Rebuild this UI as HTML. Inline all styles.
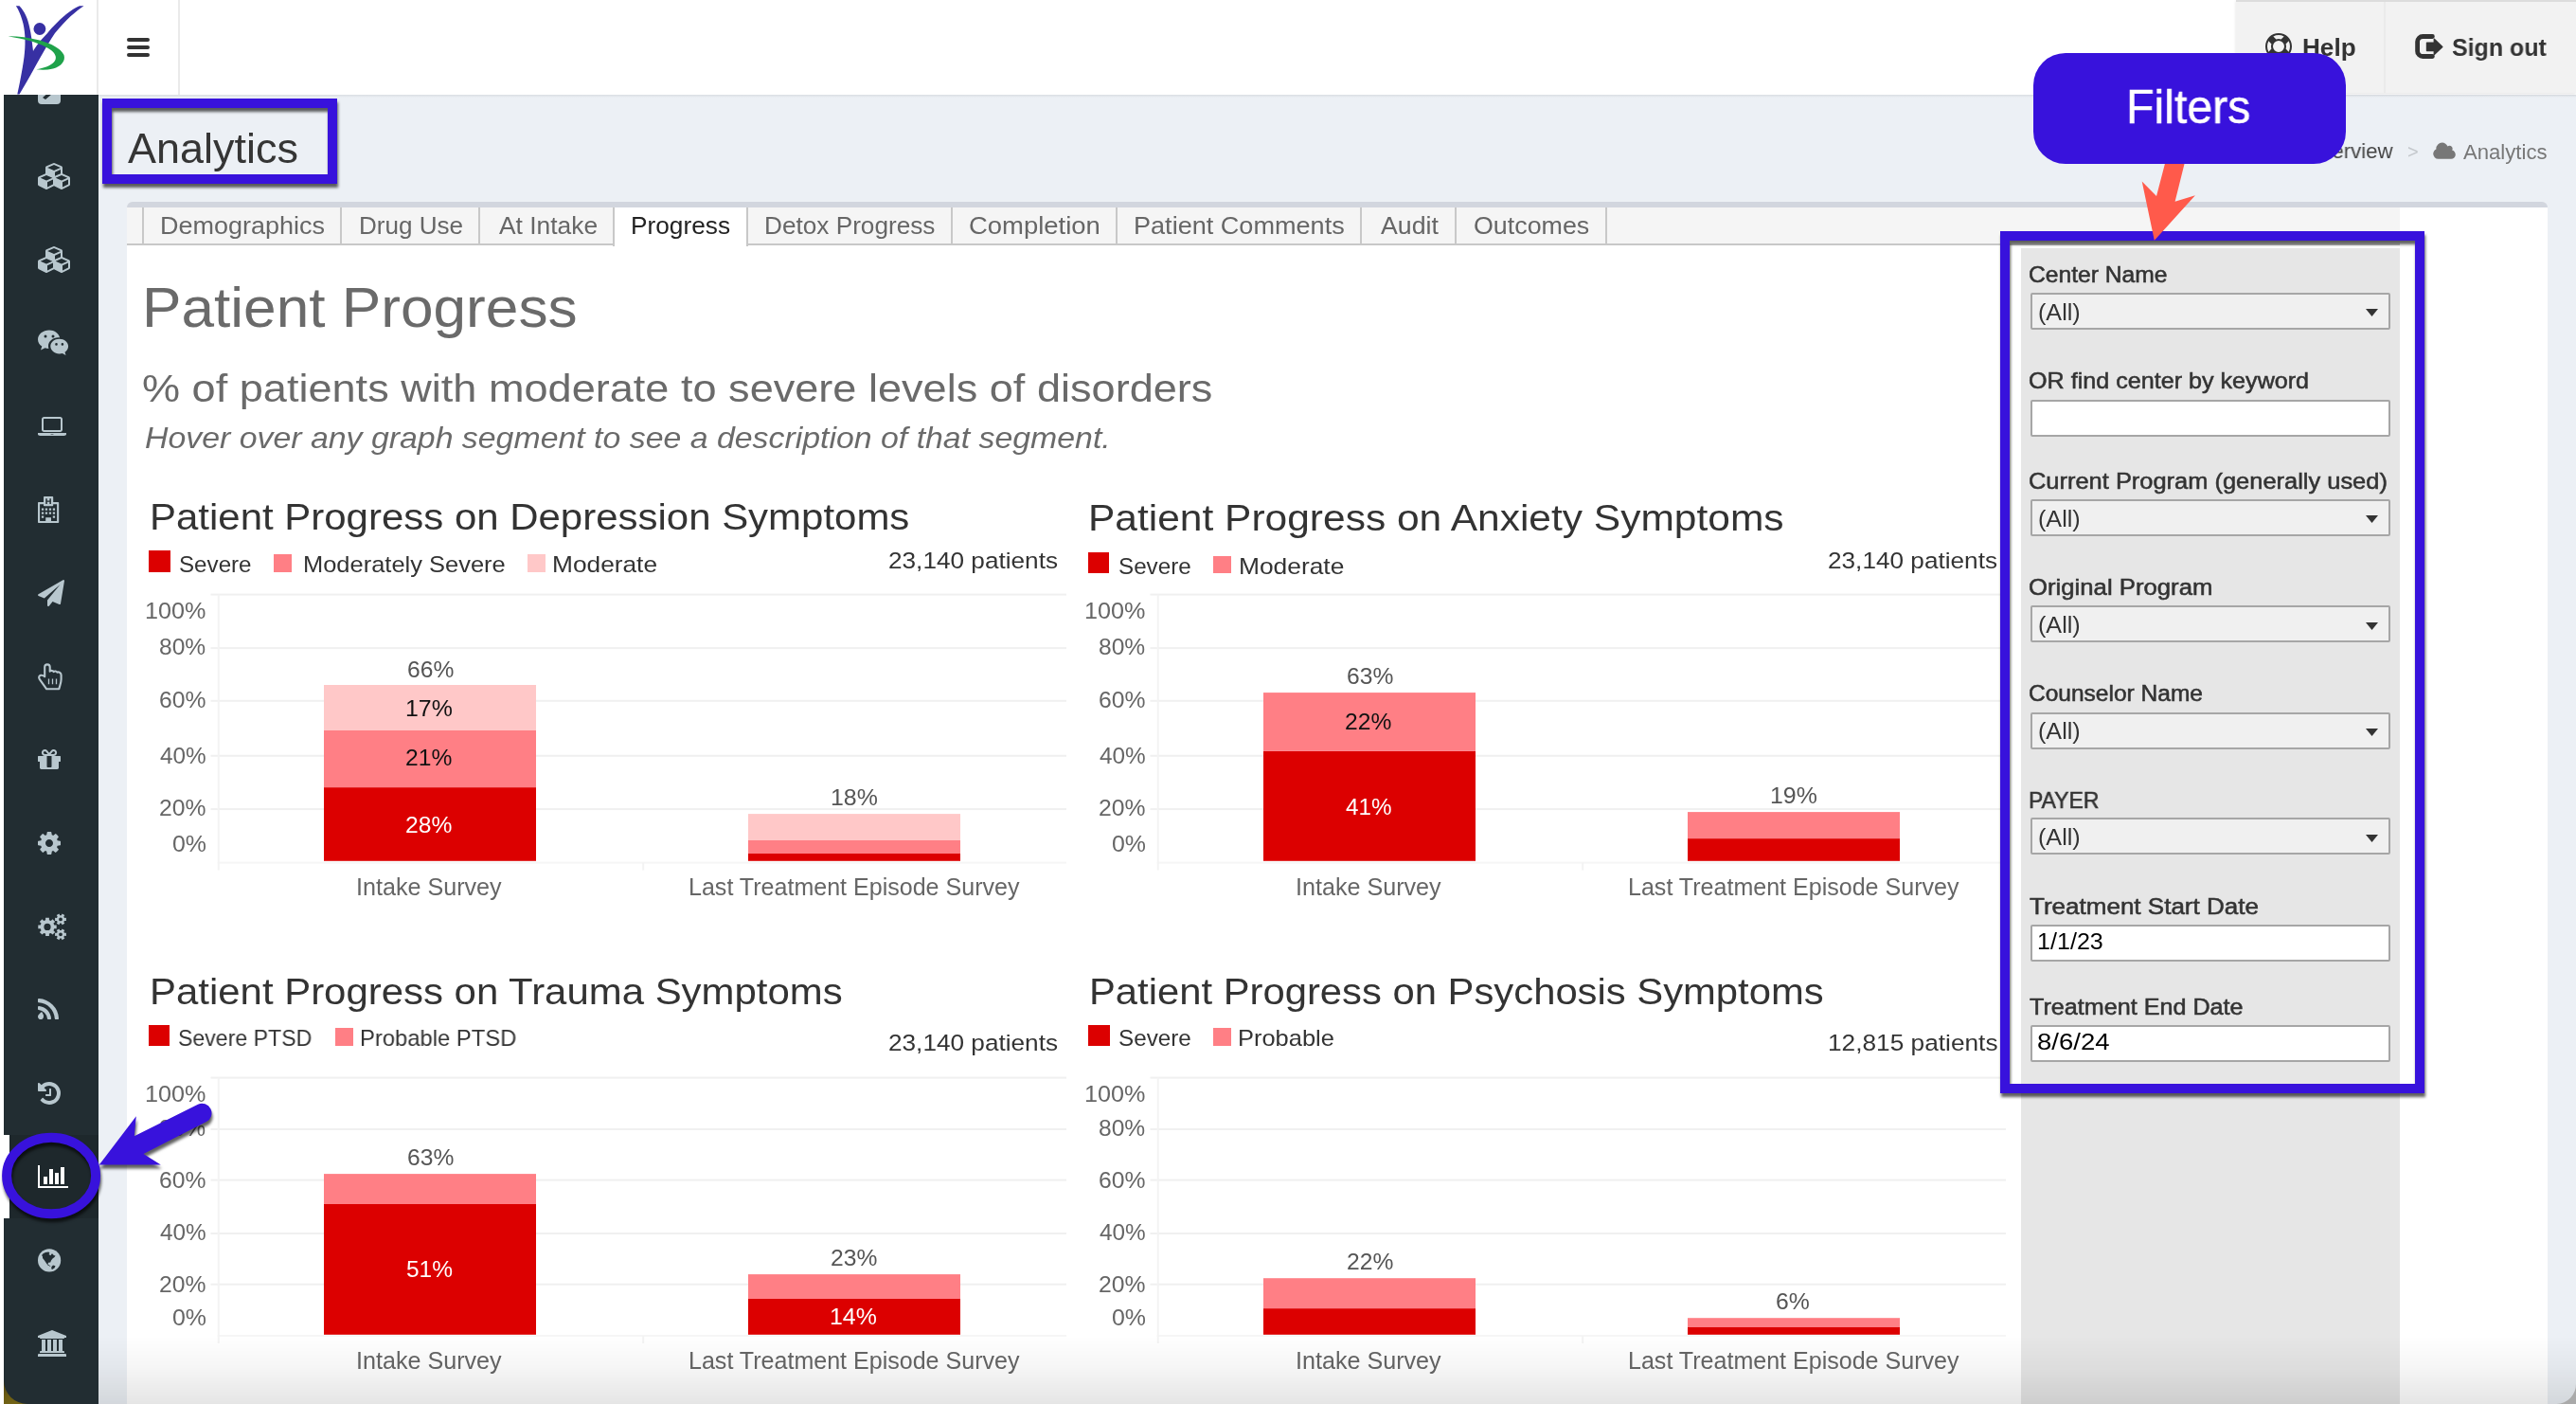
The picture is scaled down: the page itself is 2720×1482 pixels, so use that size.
<!DOCTYPE html>
<html lang="en"><head><meta charset="utf-8"><title>Analytics</title>
<style>
html,body{margin:0;padding:0}
body{width:2720px;height:1482px;overflow:hidden;position:relative;background:#ecf0f5;font-family:"Liberation Sans",sans-serif}
.t{position:absolute;white-space:nowrap;line-height:normal;font-family:"Liberation Sans",sans-serif;will-change:transform}
.a{position:absolute}
svg{position:absolute;overflow:visible}
</style></head><body>

<div class="a" style="left:0;top:0;width:4px;height:1482px;background:#fff"></div>
<div class="a" style="left:4px;top:1445px;width:36px;height:37px;background:linear-gradient(160deg,#3a2f14,#6b5c12 60%,#7a6a1a)"></div>
<main class="a" style="left:134px;top:213px;width:2556px;height:1300px;background:#fff;border-top:6px solid #d2d6de;border-radius:6px 6px 0 0;box-sizing:border-box"></main>
<nav class="a" style="left:134px;top:219px;width:2400px;height:38px;background:#f5f5f5;border-bottom:2px solid #c8c8c8"></nav>
<div class="a" style="left:150px;top:219px;width:2px;height:38px;background:#c8c8c8"></div>
<span class="t" style="left:169.1px;top:223.7px;font-size:25.5px;color:#666;font-weight:400;font-style:normal;letter-spacing:0.00px;transform:scaleX(1.0588);transform-origin:0 0;">Demographics</span>
<div class="a" style="left:359px;top:219px;width:2px;height:38px;background:#c8c8c8"></div>
<span class="t" style="left:378.9px;top:223.7px;font-size:25.5px;color:#666;font-weight:400;font-style:normal;letter-spacing:0.00px;transform:scaleX(1.0220);transform-origin:0 0;">Drug Use</span>
<div class="a" style="left:505px;top:219px;width:2px;height:38px;background:#c8c8c8"></div>
<span class="t" style="left:526.5px;top:223.7px;font-size:25.5px;color:#666;font-weight:400;font-style:normal;letter-spacing:0.00px;transform:scaleX(1.0342);transform-origin:0 0;">At Intake</span>
<div class="a" style="left:647px;top:219px;width:143px;height:41px;background:#fff;border-left:2px solid #c8c8c8;border-right:2px solid #c8c8c8;box-sizing:border-box"></div>
<span class="t" style="left:666.2px;top:223.7px;font-size:25.5px;color:#222;font-weight:400;font-style:normal;letter-spacing:0.00px;transform:scaleX(1.0293);transform-origin:0 0;">Progress</span>
<div class="a" style="left:788px;top:219px;width:2px;height:38px;background:#c8c8c8"></div>
<span class="t" style="left:806.8px;top:223.7px;font-size:25.5px;color:#666;font-weight:400;font-style:normal;letter-spacing:0.00px;transform:scaleX(1.0269);transform-origin:0 0;">Detox Progress</span>
<div class="a" style="left:1004px;top:219px;width:2px;height:38px;background:#c8c8c8"></div>
<span class="t" style="left:1023.4px;top:223.7px;font-size:25.5px;color:#666;font-weight:400;font-style:normal;letter-spacing:0.00px;transform:scaleX(1.0762);transform-origin:0 0;">Completion</span>
<div class="a" style="left:1178px;top:219px;width:2px;height:38px;background:#c8c8c8"></div>
<span class="t" style="left:1197.4px;top:223.7px;font-size:25.5px;color:#666;font-weight:400;font-style:normal;letter-spacing:0.00px;transform:scaleX(1.0617);transform-origin:0 0;">Patient Comments</span>
<div class="a" style="left:1436px;top:219px;width:2px;height:38px;background:#c8c8c8"></div>
<span class="t" style="left:1458.2px;top:223.7px;font-size:25.5px;color:#666;font-weight:400;font-style:normal;letter-spacing:0.00px;transform:scaleX(1.0466);transform-origin:0 0;">Audit</span>
<div class="a" style="left:1536px;top:219px;width:2px;height:38px;background:#c8c8c8"></div>
<span class="t" style="left:1556.4px;top:223.7px;font-size:25.5px;color:#666;font-weight:400;font-style:normal;letter-spacing:0.00px;transform:scaleX(1.0518);transform-origin:0 0;">Outcomes</span>
<div class="a" style="left:1695px;top:219px;width:2px;height:38px;background:#c8c8c8"></div>
<aside class="a" style="left:2134px;top:262px;width:400px;height:1230px;background:#e6e6e6"></aside>
<span class="t" style="left:149.6px;top:290.9px;font-size:58.5px;color:#6a6a6a;font-weight:400;font-style:normal;letter-spacing:0.00px;transform:scaleX(1.0626);transform-origin:0 0;">Patient Progress</span>
<span class="t" style="left:150.4px;top:386.7px;font-size:40.5px;color:#6a6a6a;font-weight:400;font-style:normal;letter-spacing:0.00px;transform:scaleX(1.1134);transform-origin:0 0;">% of patients with moderate to severe levels of disorders</span>
<span class="t" style="left:152.8px;top:445.2px;font-size:30.5px;color:#6a6a6a;font-weight:400;font-style:italic;letter-spacing:0.00px;transform:scaleX(1.1097);transform-origin:0 0;">Hover over any graph segment to see a description of that segment.</span>
<svg width="2720" height="1482" style="left:0;top:0" viewBox="0 0 2720 1482">
<rect x="222.5" y="626.6" width="903.5" height="2" fill="#f0f0f0"/>
<rect x="222.5" y="683.1" width="903.5" height="2" fill="#f0f0f0"/>
<rect x="222.5" y="738.8" width="903.5" height="2" fill="#f0f0f0"/>
<rect x="222.5" y="796.8" width="903.5" height="2" fill="#f0f0f0"/>
<rect x="222.5" y="853.1" width="903.5" height="2" fill="#f0f0f0"/>
<rect x="229.7" y="909.6" width="896.3" height="2" fill="#f6f6f6"/>
<rect x="229.7" y="627.6" width="2" height="291.0" fill="#f3f3f3"/>
<rect x="678.2" y="910.6" width="2" height="8" fill="#f3f3f3"/>
<rect x="342" y="831.1" width="224" height="77.7" fill="#dc0000"/>
<rect x="342" y="771.0" width="224" height="60.1" fill="#ff7f85"/>
<rect x="342" y="723.0" width="224" height="48.0" fill="#ffc8c8"/>
<rect x="790" y="901.0" width="224" height="7.8" fill="#dc0000"/>
<rect x="790" y="887.0" width="224" height="14.0" fill="#ff7f85"/>
<rect x="790" y="859.1" width="224" height="27.9" fill="#ffc8c8"/>
</svg>
<span class="t" style="left:157.5px;top:525.2px;font-size:38px;color:#333;font-weight:400;font-style:normal;letter-spacing:0.00px;transform:scaleX(1.1043);transform-origin:0 0;">Patient Progress on Depression Symptoms</span>
<div class="a" style="left:157.2px;top:581.2px;width:22.6px;height:22.6px;background:#dc0000"></div>
<span class="t" style="left:189.0px;top:581.5px;font-size:24px;color:#333;font-weight:400;font-style:normal;letter-spacing:0.00px;transform:scaleX(1.0068);transform-origin:0 0;">Severe</span>
<div class="a" style="left:289.1px;top:584.9px;width:18.9px;height:18.9px;background:#ff7f85"></div>
<span class="t" style="left:319.5px;top:581.5px;font-size:24px;color:#333;font-weight:400;font-style:normal;letter-spacing:0.00px;transform:scaleX(1.0608);transform-origin:0 0;">Moderately Severe</span>
<div class="a" style="left:556.5px;top:584.5px;width:19.3px;height:19.3px;background:#ffc8c8"></div>
<span class="t" style="left:583.3px;top:581.5px;font-size:24px;color:#333;font-weight:400;font-style:normal;letter-spacing:0.00px;transform:scaleX(1.0952);transform-origin:0 0;">Moderate</span>
<span class="t" style="left:938.3px;top:577.6px;font-size:24.5px;color:#333;font-weight:400;font-style:normal;letter-spacing:0.00px;transform:scaleX(1.0683);transform-origin:0 0;">23,140 patients</span>
<span class="t" style="left:153.2px;top:630.7px;font-size:24px;color:#666;font-weight:400;font-style:normal;letter-spacing:0.00px;transform:scaleX(1.0485);transform-origin:0 0;">100%</span>
<span class="t" style="left:168.2px;top:668.9px;font-size:24px;color:#666;font-weight:400;font-style:normal;letter-spacing:0.00px;transform:scaleX(1.0249);transform-origin:0 0;">80%</span>
<span class="t" style="left:167.9px;top:725.0px;font-size:24px;color:#666;font-weight:400;font-style:normal;letter-spacing:0.00px;transform:scaleX(1.0304);transform-origin:0 0;">60%</span>
<span class="t" style="left:168.7px;top:783.5px;font-size:24px;color:#666;font-weight:400;font-style:normal;letter-spacing:0.00px;transform:scaleX(1.0139);transform-origin:0 0;">40%</span>
<span class="t" style="left:167.9px;top:839.3px;font-size:24px;color:#666;font-weight:400;font-style:normal;letter-spacing:0.00px;transform:scaleX(1.0304);transform-origin:0 0;">20%</span>
<span class="t" style="left:182.2px;top:877.2px;font-size:24px;color:#666;font-weight:400;font-style:normal;letter-spacing:0.00px;transform:scaleX(1.0382);transform-origin:0 0;">0%</span>
<span class="t" style="left:429.7px;top:692.6px;font-size:24px;color:#555;font-weight:400;font-style:normal;letter-spacing:0.00px;transform:scaleX(1.0261);transform-origin:0 0;">66%</span>
<span class="t" style="left:427.8px;top:733.9px;font-size:24px;color:#111;font-weight:400;font-style:normal;letter-spacing:0.00px;transform:scaleX(1.0374);transform-origin:0 0;">17%</span>
<span class="t" style="left:428.3px;top:786.2px;font-size:24px;color:#111;font-weight:400;font-style:normal;letter-spacing:0.00px;transform:scaleX(1.0261);transform-origin:0 0;">21%</span>
<span class="t" style="left:428.3px;top:856.6px;font-size:24px;color:#fff;font-weight:400;font-style:normal;letter-spacing:0.00px;transform:scaleX(1.0261);transform-origin:0 0;">28%</span>
<span class="t" style="left:876.9px;top:828.1px;font-size:24px;color:#555;font-weight:400;font-style:normal;letter-spacing:0.00px;transform:scaleX(1.0374);transform-origin:0 0;">18%</span>
<span class="t" style="left:376.1px;top:921.5px;font-size:25px;color:#666;font-weight:400;font-style:normal;letter-spacing:0.00px;transform:scaleX(1.0053);transform-origin:0 0;">Intake Survey</span>
<span class="t" style="left:726.7px;top:921.5px;font-size:25px;color:#666;font-weight:400;font-style:normal;letter-spacing:0.00px;transform:scaleX(1.0019);transform-origin:0 0;">Last Treatment Episode Survey</span>
<svg width="2720" height="1482" style="left:0;top:0" viewBox="0 0 2720 1482">
<rect x="1214.5" y="626.6" width="903.5" height="2" fill="#f0f0f0"/>
<rect x="1214.5" y="683.1" width="903.5" height="2" fill="#f0f0f0"/>
<rect x="1214.5" y="738.8" width="903.5" height="2" fill="#f0f0f0"/>
<rect x="1214.5" y="796.8" width="903.5" height="2" fill="#f0f0f0"/>
<rect x="1214.5" y="853.1" width="903.5" height="2" fill="#f0f0f0"/>
<rect x="1221.7" y="909.6" width="896.3" height="2" fill="#f6f6f6"/>
<rect x="1221.7" y="627.6" width="2" height="291.0" fill="#f3f3f3"/>
<rect x="1670.2" y="910.6" width="2" height="8" fill="#f3f3f3"/>
<rect x="1334" y="792.9" width="224" height="115.9" fill="#dc0000"/>
<rect x="1334" y="731.1" width="224" height="61.8" fill="#ff7f85"/>
<rect x="1782" y="885.1" width="224" height="23.7" fill="#dc0000"/>
<rect x="1782" y="857.1" width="224" height="28.0" fill="#ff7f85"/>
</svg>
<span class="t" style="left:1149.4px;top:525.5px;font-size:38px;color:#333;font-weight:400;font-style:normal;letter-spacing:0.00px;transform:scaleX(1.1183);transform-origin:0 0;">Patient Progress on Anxiety Symptoms</span>
<div class="a" style="left:1149.4px;top:583.4px;width:22.1px;height:22.1px;background:#dc0000"></div>
<span class="t" style="left:1180.8px;top:583.8px;font-size:24px;color:#333;font-weight:400;font-style:normal;letter-spacing:0.00px;transform:scaleX(1.0081);transform-origin:0 0;">Severe</span>
<div class="a" style="left:1281.4px;top:587.3px;width:18.2px;height:18.2px;background:#ff7f85"></div>
<span class="t" style="left:1307.7px;top:583.8px;font-size:24px;color:#333;font-weight:400;font-style:normal;letter-spacing:0.00px;transform:scaleX(1.0982);transform-origin:0 0;">Moderate</span>
<span class="t" style="left:1930.3px;top:577.5px;font-size:24.5px;color:#333;font-weight:400;font-style:normal;letter-spacing:0.00px;transform:scaleX(1.0683);transform-origin:0 0;">23,140 patients</span>
<span class="t" style="left:1145.2px;top:630.7px;font-size:24px;color:#666;font-weight:400;font-style:normal;letter-spacing:0.00px;transform:scaleX(1.0485);transform-origin:0 0;">100%</span>
<span class="t" style="left:1160.2px;top:668.9px;font-size:24px;color:#666;font-weight:400;font-style:normal;letter-spacing:0.00px;transform:scaleX(1.0249);transform-origin:0 0;">80%</span>
<span class="t" style="left:1159.9px;top:725.0px;font-size:24px;color:#666;font-weight:400;font-style:normal;letter-spacing:0.00px;transform:scaleX(1.0304);transform-origin:0 0;">60%</span>
<span class="t" style="left:1160.7px;top:783.5px;font-size:24px;color:#666;font-weight:400;font-style:normal;letter-spacing:0.00px;transform:scaleX(1.0139);transform-origin:0 0;">40%</span>
<span class="t" style="left:1159.9px;top:839.3px;font-size:24px;color:#666;font-weight:400;font-style:normal;letter-spacing:0.00px;transform:scaleX(1.0304);transform-origin:0 0;">20%</span>
<span class="t" style="left:1174.2px;top:877.2px;font-size:24px;color:#666;font-weight:400;font-style:normal;letter-spacing:0.00px;transform:scaleX(1.0382);transform-origin:0 0;">0%</span>
<span class="t" style="left:1421.7px;top:700.4px;font-size:24px;color:#555;font-weight:400;font-style:normal;letter-spacing:0.00px;transform:scaleX(1.0261);transform-origin:0 0;">63%</span>
<span class="t" style="left:1420.3px;top:747.9px;font-size:24px;color:#111;font-weight:400;font-style:normal;letter-spacing:0.00px;transform:scaleX(1.0261);transform-origin:0 0;">22%</span>
<span class="t" style="left:1421.1px;top:837.9px;font-size:24px;color:#fff;font-weight:400;font-style:normal;letter-spacing:0.00px;transform:scaleX(1.0096);transform-origin:0 0;">41%</span>
<span class="t" style="left:1868.9px;top:826.1px;font-size:24px;color:#555;font-weight:400;font-style:normal;letter-spacing:0.00px;transform:scaleX(1.0374);transform-origin:0 0;">19%</span>
<span class="t" style="left:1368.1px;top:921.5px;font-size:25px;color:#666;font-weight:400;font-style:normal;letter-spacing:0.00px;transform:scaleX(1.0053);transform-origin:0 0;">Intake Survey</span>
<span class="t" style="left:1718.7px;top:921.5px;font-size:25px;color:#666;font-weight:400;font-style:normal;letter-spacing:0.00px;transform:scaleX(1.0019);transform-origin:0 0;">Last Treatment Episode Survey</span>
<svg width="2720" height="1482" style="left:0;top:0" viewBox="0 0 2720 1482">
<rect x="222.5" y="1136.6" width="903.5" height="2" fill="#f0f0f0"/>
<rect x="222.5" y="1190.9" width="903.5" height="2" fill="#f0f0f0"/>
<rect x="222.5" y="1244.6" width="903.5" height="2" fill="#f0f0f0"/>
<rect x="222.5" y="1301.0" width="903.5" height="2" fill="#f0f0f0"/>
<rect x="222.5" y="1354.7" width="903.5" height="2" fill="#f0f0f0"/>
<rect x="229.7" y="1409.0" width="896.3" height="2" fill="#f6f6f6"/>
<rect x="229.7" y="1137.6" width="2" height="280.4" fill="#f3f3f3"/>
<rect x="678.2" y="1410.0" width="2" height="8" fill="#f3f3f3"/>
<rect x="342" y="1271.0" width="224" height="137.8" fill="#dc0000"/>
<rect x="342" y="1239.1" width="224" height="31.9" fill="#ff7f85"/>
<rect x="790" y="1371.0" width="224" height="37.8" fill="#dc0000"/>
<rect x="790" y="1345.1" width="224" height="25.9" fill="#ff7f85"/>
</svg>
<span class="t" style="left:157.5px;top:1026.4px;font-size:38px;color:#333;font-weight:400;font-style:normal;letter-spacing:0.00px;transform:scaleX(1.1033);transform-origin:0 0;">Patient Progress on Trauma Symptoms</span>
<div class="a" style="left:157.3px;top:1082.0px;width:22.2px;height:22.2px;background:#dc0000"></div>
<span class="t" style="left:188.4px;top:1082.1px;font-size:24px;color:#333;font-weight:400;font-style:normal;letter-spacing:0.00px;transform:scaleX(0.9623);transform-origin:0 0;">Severe PTSD</span>
<div class="a" style="left:353.5px;top:1084.8px;width:19.4px;height:19.4px;background:#ff7f85"></div>
<span class="t" style="left:380.4px;top:1082.1px;font-size:24px;color:#333;font-weight:400;font-style:normal;letter-spacing:0.00px;transform:scaleX(0.9911);transform-origin:0 0;">Probable PTSD</span>
<span class="t" style="left:938.3px;top:1087.2px;font-size:24.5px;color:#333;font-weight:400;font-style:normal;letter-spacing:0.00px;transform:scaleX(1.0683);transform-origin:0 0;">23,140 patients</span>
<span class="t" style="left:153.2px;top:1141.1px;font-size:24px;color:#666;font-weight:400;font-style:normal;letter-spacing:0.00px;transform:scaleX(1.0485);transform-origin:0 0;">100%</span>
<span class="t" style="left:168.2px;top:1177.1px;font-size:24px;color:#666;font-weight:400;font-style:normal;letter-spacing:0.00px;transform:scaleX(1.0249);transform-origin:0 0;">80%</span>
<span class="t" style="left:167.9px;top:1231.5px;font-size:24px;color:#666;font-weight:400;font-style:normal;letter-spacing:0.00px;transform:scaleX(1.0304);transform-origin:0 0;">60%</span>
<span class="t" style="left:168.7px;top:1287.3px;font-size:24px;color:#666;font-weight:400;font-style:normal;letter-spacing:0.00px;transform:scaleX(1.0139);transform-origin:0 0;">40%</span>
<span class="t" style="left:167.9px;top:1341.8px;font-size:24px;color:#666;font-weight:400;font-style:normal;letter-spacing:0.00px;transform:scaleX(1.0304);transform-origin:0 0;">20%</span>
<span class="t" style="left:182.2px;top:1377.3px;font-size:24px;color:#666;font-weight:400;font-style:normal;letter-spacing:0.00px;transform:scaleX(1.0382);transform-origin:0 0;">0%</span>
<span class="t" style="left:429.7px;top:1208.1px;font-size:24px;color:#555;font-weight:400;font-style:normal;letter-spacing:0.00px;transform:scaleX(1.0261);transform-origin:0 0;">63%</span>
<span class="t" style="left:428.6px;top:1326.4px;font-size:24px;color:#fff;font-weight:400;font-style:normal;letter-spacing:0.00px;transform:scaleX(1.0205);transform-origin:0 0;">51%</span>
<span class="t" style="left:877.4px;top:1314.4px;font-size:24px;color:#555;font-weight:400;font-style:normal;letter-spacing:0.00px;transform:scaleX(1.0261);transform-origin:0 0;">23%</span>
<span class="t" style="left:875.6px;top:1376.4px;font-size:24px;color:#fff;font-weight:400;font-style:normal;letter-spacing:0.00px;transform:scaleX(1.0374);transform-origin:0 0;">14%</span>
<span class="t" style="left:376.1px;top:1422.2px;font-size:25px;color:#666;font-weight:400;font-style:normal;letter-spacing:0.00px;transform:scaleX(1.0053);transform-origin:0 0;">Intake Survey</span>
<span class="t" style="left:726.7px;top:1422.2px;font-size:25px;color:#666;font-weight:400;font-style:normal;letter-spacing:0.00px;transform:scaleX(1.0019);transform-origin:0 0;">Last Treatment Episode Survey</span>
<svg width="2720" height="1482" style="left:0;top:0" viewBox="0 0 2720 1482">
<rect x="1214.5" y="1136.6" width="903.5" height="2" fill="#f0f0f0"/>
<rect x="1214.5" y="1190.9" width="903.5" height="2" fill="#f0f0f0"/>
<rect x="1214.5" y="1244.6" width="903.5" height="2" fill="#f0f0f0"/>
<rect x="1214.5" y="1301.0" width="903.5" height="2" fill="#f0f0f0"/>
<rect x="1214.5" y="1354.7" width="903.5" height="2" fill="#f0f0f0"/>
<rect x="1221.7" y="1409.0" width="896.3" height="2" fill="#f6f6f6"/>
<rect x="1221.7" y="1137.6" width="2" height="280.4" fill="#f3f3f3"/>
<rect x="1670.2" y="1410.0" width="2" height="8" fill="#f3f3f3"/>
<rect x="1334" y="1381.1" width="224" height="27.7" fill="#dc0000"/>
<rect x="1334" y="1349.2" width="224" height="31.9" fill="#ff7f85"/>
<rect x="1782" y="1401.0" width="224" height="7.8" fill="#dc0000"/>
<rect x="1782" y="1391.2" width="224" height="9.8" fill="#ff7f85"/>
</svg>
<span class="t" style="left:1149.5px;top:1026.4px;font-size:38px;color:#333;font-weight:400;font-style:normal;letter-spacing:0.00px;transform:scaleX(1.0996);transform-origin:0 0;">Patient Progress on Psychosis Symptoms</span>
<div class="a" style="left:1149.0px;top:1081.6px;width:22.6px;height:22.6px;background:#dc0000"></div>
<span class="t" style="left:1180.5px;top:1082.1px;font-size:24px;color:#333;font-weight:400;font-style:normal;letter-spacing:0.00px;transform:scaleX(1.0095);transform-origin:0 0;">Severe</span>
<div class="a" style="left:1281.0px;top:1085.2px;width:19.0px;height:19.0px;background:#ff7f85"></div>
<span class="t" style="left:1307.3px;top:1082.1px;font-size:24px;color:#333;font-weight:400;font-style:normal;letter-spacing:0.00px;transform:scaleX(1.0602);transform-origin:0 0;">Probable</span>
<span class="t" style="left:1929.7px;top:1087.2px;font-size:24.5px;color:#333;font-weight:400;font-style:normal;letter-spacing:0.00px;transform:scaleX(1.0715);transform-origin:0 0;">12,815 patients</span>
<span class="t" style="left:1145.2px;top:1141.1px;font-size:24px;color:#666;font-weight:400;font-style:normal;letter-spacing:0.00px;transform:scaleX(1.0485);transform-origin:0 0;">100%</span>
<span class="t" style="left:1160.2px;top:1177.1px;font-size:24px;color:#666;font-weight:400;font-style:normal;letter-spacing:0.00px;transform:scaleX(1.0249);transform-origin:0 0;">80%</span>
<span class="t" style="left:1159.9px;top:1231.5px;font-size:24px;color:#666;font-weight:400;font-style:normal;letter-spacing:0.00px;transform:scaleX(1.0304);transform-origin:0 0;">60%</span>
<span class="t" style="left:1160.7px;top:1287.3px;font-size:24px;color:#666;font-weight:400;font-style:normal;letter-spacing:0.00px;transform:scaleX(1.0139);transform-origin:0 0;">40%</span>
<span class="t" style="left:1159.9px;top:1341.8px;font-size:24px;color:#666;font-weight:400;font-style:normal;letter-spacing:0.00px;transform:scaleX(1.0304);transform-origin:0 0;">20%</span>
<span class="t" style="left:1174.2px;top:1377.3px;font-size:24px;color:#666;font-weight:400;font-style:normal;letter-spacing:0.00px;transform:scaleX(1.0382);transform-origin:0 0;">0%</span>
<span class="t" style="left:1421.7px;top:1318.0px;font-size:24px;color:#555;font-weight:400;font-style:normal;letter-spacing:0.00px;transform:scaleX(1.0261);transform-origin:0 0;">22%</span>
<span class="t" style="left:1875.3px;top:1359.9px;font-size:24px;color:#555;font-weight:400;font-style:normal;letter-spacing:0.00px;transform:scaleX(1.0308);transform-origin:0 0;">6%</span>
<span class="t" style="left:1368.1px;top:1422.2px;font-size:25px;color:#666;font-weight:400;font-style:normal;letter-spacing:0.00px;transform:scaleX(1.0053);transform-origin:0 0;">Intake Survey</span>
<span class="t" style="left:1718.7px;top:1422.2px;font-size:25px;color:#666;font-weight:400;font-style:normal;letter-spacing:0.00px;transform:scaleX(1.0019);transform-origin:0 0;">Last Treatment Episode Survey</span>
<span class="t" style="left:2142.2px;top:276.1px;font-size:24.5px;color:#333;font-weight:400;font-style:normal;letter-spacing:0.00px;-webkit-text-stroke:0.55px #333;transform:scaleX(1.0059);transform-origin:0 0;">Center Name</span>
<div class="a" style="left:2144px;top:309.2px;width:380px;height:39px;box-sizing:border-box;background:#f0f0f0;border:2px solid #a6a6a6;border-radius:2px"></div><span class="t" style="left:2151.9px;top:316.5px;font-size:23.5px;color:#333;font-weight:400;font-style:normal;letter-spacing:0.00px;transform:scaleX(1.0692);transform-origin:0 0;">(All)</span><svg width="13" height="8" style="left:2497.8px;top:326.4px" viewBox="0 0 13 8"><path d="M0 0H13L6.5 8Z" fill="#333"/></svg>
<span class="t" style="left:2142.2px;top:387.9px;font-size:24.5px;color:#333;font-weight:400;font-style:normal;letter-spacing:0.00px;-webkit-text-stroke:0.55px #333;transform:scaleX(1.0257);transform-origin:0 0;">OR find center by keyword</span>
<div class="a" style="left:2144px;top:421.5px;width:380px;height:39px;box-sizing:border-box;background:#fff;border:2px solid #a6a6a6;border-radius:2px"></div>
<span class="t" style="left:2142.2px;top:494.1px;font-size:24.5px;color:#333;font-weight:400;font-style:normal;letter-spacing:0.00px;-webkit-text-stroke:0.55px #333;transform:scaleX(1.0382);transform-origin:0 0;">Current Program (generally used)</span>
<div class="a" style="left:2144px;top:527.2px;width:380px;height:39px;box-sizing:border-box;background:#f0f0f0;border:2px solid #a6a6a6;border-radius:2px"></div><span class="t" style="left:2151.9px;top:534.5px;font-size:23.5px;color:#333;font-weight:400;font-style:normal;letter-spacing:0.00px;transform:scaleX(1.0692);transform-origin:0 0;">(All)</span><svg width="13" height="8" style="left:2497.8px;top:544.4px" viewBox="0 0 13 8"><path d="M0 0H13L6.5 8Z" fill="#333"/></svg>
<span class="t" style="left:2142.2px;top:605.8px;font-size:24.5px;color:#333;font-weight:400;font-style:normal;letter-spacing:0.00px;-webkit-text-stroke:0.55px #333;transform:scaleX(1.0497);transform-origin:0 0;">Original Program</span>
<div class="a" style="left:2144px;top:639.4px;width:380px;height:39px;box-sizing:border-box;background:#f0f0f0;border:2px solid #a6a6a6;border-radius:2px"></div><span class="t" style="left:2151.9px;top:646.7px;font-size:23.5px;color:#333;font-weight:400;font-style:normal;letter-spacing:0.00px;transform:scaleX(1.0692);transform-origin:0 0;">(All)</span><svg width="13" height="8" style="left:2497.8px;top:656.6px" viewBox="0 0 13 8"><path d="M0 0H13L6.5 8Z" fill="#333"/></svg>
<span class="t" style="left:2142.2px;top:718.1px;font-size:24.5px;color:#333;font-weight:400;font-style:normal;letter-spacing:0.00px;-webkit-text-stroke:0.55px #333;transform:scaleX(1.0006);transform-origin:0 0;">Counselor Name</span>
<div class="a" style="left:2144px;top:751.6px;width:380px;height:39px;box-sizing:border-box;background:#f0f0f0;border:2px solid #a6a6a6;border-radius:2px"></div><span class="t" style="left:2151.9px;top:758.9px;font-size:23.5px;color:#333;font-weight:400;font-style:normal;letter-spacing:0.00px;transform:scaleX(1.0692);transform-origin:0 0;">(All)</span><svg width="13" height="8" style="left:2497.8px;top:768.8px" viewBox="0 0 13 8"><path d="M0 0H13L6.5 8Z" fill="#333"/></svg>
<span class="t" style="left:2141.6px;top:830.5px;font-size:24.5px;color:#333;font-weight:400;font-style:normal;letter-spacing:0.00px;-webkit-text-stroke:0.55px #333;transform:scaleX(0.9364);transform-origin:0 0;">PAYER</span>
<div class="a" style="left:2144px;top:863.4px;width:380px;height:39px;box-sizing:border-box;background:#f0f0f0;border:2px solid #a6a6a6;border-radius:2px"></div><span class="t" style="left:2151.9px;top:870.7px;font-size:23.5px;color:#333;font-weight:400;font-style:normal;letter-spacing:0.00px;transform:scaleX(1.0692);transform-origin:0 0;">(All)</span><svg width="13" height="8" style="left:2497.8px;top:880.6px" viewBox="0 0 13 8"><path d="M0 0H13L6.5 8Z" fill="#333"/></svg>
<span class="t" style="left:2143.0px;top:942.6px;font-size:24.5px;color:#333;font-weight:400;font-style:normal;letter-spacing:0.00px;-webkit-text-stroke:0.55px #333;transform:scaleX(1.0617);transform-origin:0 0;">Treatment Start Date</span>
<div class="a" style="left:2144px;top:975.6px;width:380px;height:39px;box-sizing:border-box;background:#fff;border:2px solid #a6a6a6;border-radius:2px"></div><span class="t" style="left:2150.6px;top:980.5px;font-size:23.5px;color:#000;font-weight:400;font-style:normal;letter-spacing:0.00px;transform:scaleX(1.0688);transform-origin:0 0;">1/1/23</span>
<span class="t" style="left:2143.0px;top:1048.7px;font-size:24.5px;color:#333;font-weight:400;font-style:normal;letter-spacing:0.00px;-webkit-text-stroke:0.55px #333;transform:scaleX(1.0266);transform-origin:0 0;">Treatment End Date</span>
<div class="a" style="left:2144px;top:1081.7px;width:380px;height:39px;box-sizing:border-box;background:#fff;border:2px solid #a6a6a6;border-radius:2px"></div><span class="t" style="left:2151.3px;top:1086.6px;font-size:23.5px;color:#000;font-weight:400;font-style:normal;letter-spacing:0.00px;transform:scaleX(1.1733);transform-origin:0 0;">8/6/24</span>
<span class="t" style="left:134.8px;top:132.1px;font-size:44.7px;color:#353535;font-weight:400;font-style:normal;letter-spacing:0.00px;transform:scaleX(1.0062);transform-origin:0 0;">Analytics</span>
<span class="t" style="left:2434.4px;top:147.3px;font-size:22.5px;color:#444;font-weight:400;font-style:normal;letter-spacing:0.00px;transform:scaleX(0.9871);transform-origin:0 0;">Overview</span>
<span class="t" style="left:2542.0px;top:149.1px;font-size:20px;color:#c4c8cc;font-weight:400;font-style:normal;letter-spacing:0.00px;">&gt;</span>
<span class="t" style="left:2601.0px;top:147.7px;font-size:22px;color:#777;font-weight:400;font-style:normal;letter-spacing:0.00px;transform:scaleX(1.0052);transform-origin:0 0;">Analytics</span>
<svg width="28" height="22" style="left:2566.5px;top:149px" viewBox="0 0 2048 1792"><path fill="#777" d="M1984 1152q0 159-112.5 271.5t-271.5 112.5h-1088q-185 0-316.5-131.5t-131.5-316.5q0-132 71-241.5t187-163.5q-2-28-2-43 0-212 150-362t362-150q158 0 286.5 88t187.5 230q70-62 166-62 106 0 181 75t75 181q0 75-41 138 129 30 213 134.5t84 239.5z"/></svg>
<aside class="a" style="left:4px;top:100px;width:100px;height:1382px;background:#222d32;border-radius:0 0 0 25px"></aside>
<div class="a" style="left:4px;top:1198px;width:100px;height:88px;background:#1e282c;border-left:6px solid #fff;box-sizing:border-box"></div>
<svg width="26" height="28" style="left:40px;top:83.6px" viewBox="0 0 26 28"><path fill="#b8c7ce" fill-rule="evenodd" d="M0 4 H24 V22 a4 4 0 0 1-4 4 H4 a4 4 0 0 1-4-4Z M5 19 L12 13 L14.5 15.5 L8 21Z"/></svg>
<svg width="36.0" height="28" style="left:40px;top:171.6px" viewBox="0 0 2304 1792"><path fill="#b8c7ce" d="M640 1632l384-192v-314l-384 164v342zm-64-454l404-173-404-173-404 173zm1088 454l384-192v-314l-384 164v342zm-64-454l404-173-404-173-404 173zm-448-293l384-165v-266l-384 164v267zm-64-379l441-189-441-189-441 189zm1088 518v416q0 36-19 67t-52 47l-448 224q-25 14-57 14t-57-14l-448-224q-4-2-7-4-2 2-7 4l-448 224q-25 14-57 14t-57-14l-448-224q-33-16-52-47t-19-67v-416q0-38 21.5-70t56.5-48l434-186v-400q0-38 21.5-70t56.5-48l448-192q23-10 50-10t50 10l448 192q35 16 56.5 48t21.5 70v400l434 186q36 16 57 48t21 70z"/></svg>
<svg width="36.0" height="28" style="left:40px;top:259.6px" viewBox="0 0 2304 1792"><path fill="#b8c7ce" d="M640 1632l384-192v-314l-384 164v342zm-64-454l404-173-404-173-404 173zm1088 454l384-192v-314l-384 164v342zm-64-454l404-173-404-173-404 173zm-448-293l384-165v-266l-384 164v267zm-64-379l441-189-441-189-441 189zm1088 518v416q0 36-19 67t-52 47l-448 224q-25 14-57 14t-57-14l-448-224q-4-2-7-4-2 2-7 4l-448 224q-25 14-57 14t-57-14l-448-224q-33-16-52-47t-19-67v-416q0-38 21.5-70t56.5-48l434-186v-400q0-38 21.5-70t56.5-48l448-192q23-10 50-10t50 10l448 192q35 16 56.5 48t21.5 70v400l434 186q36 16 57 48t21 70z"/></svg>
<svg width="34" height="28" style="left:40px;top:347.6px" viewBox="0 0 34 28"><path fill="#b8c7ce" d="M12 0.5C5.4 0.5 0 4.8 0 10.2c0 3 1.7 5.6 4.3 7.4L3 21.5l4.6-2.3c1.3.4 2.4.6 3.8.7-.3-.9-.4-1.7-.4-2.6 0-5 4.7-9 10.6-9 .5 0 1 0 1.5.1C22.1 3.9 17.5.5 12 .5zM8 5.4a1.5 1.5 0 110 3 1.5 1.5 0 010-3zm8 0a1.5 1.5 0 110 3 1.5 1.5 0 010-3z"/><path fill="#b8c7ce" d="M22.7 9.8c-5.2 0-9.4 3.5-9.4 7.8s4.2 7.8 9.4 7.8c1.1 0 2.2-.2 3.2-.5l3.6 2-1-3.2c2.2-1.4 3.6-3.6 3.6-6.1 0-4.3-4.2-7.8-9.4-7.8zm-3.2 4.3a1.3 1.3 0 110 2.6 1.3 1.3 0 010-2.6zm6.4 0a1.3 1.3 0 110 2.6 1.3 1.3 0 010-2.6z"/></svg>
<svg width="30.0" height="28" style="left:40px;top:435.6px" viewBox="0 0 1920 1792"><path fill="#b8c7ce" d="M416 1280q-66 0-113-47t-47-113v-704q0-66 47-113t113-47h1088q66 0 113 47t47 113v704q0 66-47 113t-113 47h-1088zm-32-864v704q0 13 9.5 22.5t22.5 9.5h1088q13 0 22.5-9.5t9.5-22.5v-704q0-13-9.5-22.5t-22.5-9.5h-1088q-13 0-22.5 9.5t-9.5 22.5zm1376 928h160v96q0 40-47 68t-113 28h-1600q-66 0-113-28t-47-68v-96h1760zm-720 96q16 0 16-16t-16-16h-160q-16 0-16 16t16 16h160z"/></svg>
<svg width="22.2" height="28" style="left:40px;top:524.0px" viewBox="0 0 22.2 28"><path fill="#b8c7ce" fill-rule="evenodd" d="M6.8 0H15.4a.8 .8 0 0 1 .8 .8V6H21.4a.8 .8 0 0 1 .8 .8V27.2a.8 .8 0 0 1-.8 .8H.8a.8 .8 0 0 1-.8-.8V6.8a.8 .8 0 0 1 .8-.8H6V.8a.8 .8 0 0 1 .8-.8Z M2.1 8.2H6V9.5a.8 .8 0 0 0 .8 .8H15.4a.8 .8 0 0 0 .8-.8V8.2H20.1V25.9H14V22.3H8.2V25.9H2.1Z M8.3 2.3h1.5v2.1h2.6v-2.1h1.5v5.6h-1.5v-2.2h-2.6v2.2h-1.5z M3.9 12.4h2.3v2.3h-2.3zM7.8 12.4h2.3v2.3h-2.3zM11.8 12.4h2.3v2.3h-2.3zM15.8 12.4h2.3v2.3h-2.3zM3.9 16.4h2.3v2.3h-2.3zM7.8 16.4h2.3v2.3h-2.3zM11.8 16.4h2.3v2.3h-2.3zM15.8 16.4h2.3v2.3h-2.3zM3.9 20.4h2.3v2.3h-2.3zM15.8 20.4h2.3v2.3h-2.3z"/></svg>
<svg width="28.0" height="28" style="left:40px;top:611.6px" viewBox="0 0 1792 1792"><path fill="#b8c7ce" d="M1764 11q33 24 27 64l-256 1536q-5 29-32 45-14 8-31 8-11 0-24-5l-453-185-242 295q-18 23-49 23-13 0-22-4-19-7-30.5-23.5t-11.5-36.5v-349l864-1059-1069 925-395-162q-37-14-40-55-2-40 32-59l1664-960q15-9 32-9 20 0 36 11z"/></svg>
<svg width="26" height="29" style="left:40px;top:699.6px" viewBox="0 0 26 29"><path fill="none" stroke="#b8c7ce" stroke-width="2.1" stroke-linejoin="round" d="M7.2 14.2V4.1a2.750 2.750 0 0 1 5.5 0V8.7c1-1.2 3.6-1 4 .4c.9-1 3.3-.8 3.7 .7c1-.8 4.2-.3 4.2 2.6V17c0 4-1.5 6.5-2.3 10.3H9.2L1.7 16.8c-1.3-1.8-.2-3.6 1.3-4c1.5-.4 2.9 .3 4.2 1.4Z"/><path stroke="#b8c7ce" stroke-width="1.3" d="M11.5 16.5v5.7M15.5 16.5v5.7M19.5 16.5v5.7"/></svg>
<svg width="24.0" height="28" style="left:40px;top:787.6px" viewBox="0 0 1536 1792"><path fill="#b8c7ce" d="M928 1356v-56-468-192h-320v192 468 56q0 25 18 38.5t46 13.5h192q28 0 46-13.5t18-38.5zm-456-844h195l-126-161q-26-31-69-31-40 0-68 28t-28 68 28 68 68 28zm688-96q0-40-28-68t-68-28q-43 0-69 31l-125 161h194q40 0 68-28t28-68zm376 256v320q0 14-9 23t-23 9h-96v416q0 40-28 68t-68 28h-1088q-40 0-68-28t-28-68v-416h-96q-14 0-23-9t-9-23v-320q0-14 9-23t23-9h440q-93 0-158.5-65.5t-65.5-158.5 65.5-158.5 158.5-65.5q107 0 168 77l128 165 128-165q61-77 168-77 93 0 158.5 65.5t65.5 158.5-65.5 158.5-158.5 65.5h440q14 0 23 9t9 23z"/></svg>
<svg width="24.0" height="28" style="left:40px;top:875.6px" viewBox="0 0 1536 1792"><path fill="#b8c7ce" d="M1024 896q0-106-75-181t-181-75-181 75-75 181 75 181 181 75 181-75 75-181zm512-109v222q0 12-8 23t-20 13l-185 28q-19 54-39 91 35 50 107 138 10 12 10 25t-9 23q-27 37-99 108t-94 71q-12 0-26-9l-138-108q-44 23-91 38-16 136-29 186-7 28-36 28h-222q-14 0-24.5-8.5t-11.5-21.5l-28-184q-49-16-90-37l-141 107q-10 9-25 9-14 0-25-11-126-114-165-168-7-10-7-23 0-12 8-23 15-21 51-66.5t54-70.5q-27-50-41-99l-183-27q-13-2-21-12.5t-8-23.5v-222q0-12 8-23t19-13l186-28q14-46 39-92-40-57-107-138-10-12-10-24 0-10 9-23 26-36 98.5-107.5t94.5-71.5q13 0 26 10l138 107q44-23 91-38 16-136 29-186 7-28 36-28h222q14 0 24.5 8.5t11.5 21.5l28 184q49 16 90 37l142-107q9-9 24-9 13 0 25 10 129 119 165 170 7 8 7 22 0 12-8 23-15 21-51 66.5t-54 70.5q26 50 41 98l183 28q13 2 21 12.5t8 23.5z"/></svg>
<svg width="32" height="28" style="left:40px;top:963.6px" viewBox="0 0 32 28"><path fill="#b8c7ce" fill-rule="evenodd" d="M19.7 12.5 L19.7 16.3 L17.2 16.3 L16.5 18.2 L18.2 19.9 L15.5 22.6 L13.8 20.9 L11.9 21.6 L11.9 24.1 L8.1 24.1 L8.1 21.6 L6.2 20.9 L4.5 22.6 L1.8 19.9 L3.5 18.2 L2.8 16.3 L0.3 16.3 L0.3 12.5 L2.8 12.5 L3.5 10.6 L1.8 8.9 L4.5 6.2 L6.2 7.9 L8.1 7.2 L8.1 4.7 L11.9 4.7 L11.9 7.2 L13.8 7.9 L15.5 6.2 L18.2 8.9 L16.5 10.6 L17.2 12.5Z M13.6 14.4 A3.6 3.6 0 1 0 6.4 14.4 A3.6 3.6 0 1 0 13.6 14.4Z"/><path fill="#b8c7ce" fill-rule="evenodd" d="M29.9 4.8 L29.9 8.0 L28.0 7.9 L27.3 9.2 L28.3 10.7 L25.6 12.3 L24.8 10.6 L23.2 10.6 L22.4 12.3 L19.7 10.7 L20.7 9.2 L20.0 7.9 L18.1 8.0 L18.1 4.8 L20.0 4.9 L20.7 3.6 L19.7 2.1 L22.4 0.5 L23.2 2.2 L24.8 2.2 L25.6 0.5 L28.3 2.1 L27.3 3.6 L28.0 4.9Z M25.9 6.4 A1.9 1.9 0 1 0 22.1 6.4 A1.9 1.9 0 1 0 25.9 6.4Z"/><path fill="#b8c7ce" fill-rule="evenodd" d="M29.9 20.7 L29.9 23.9 L28.0 23.8 L27.3 25.1 L28.3 26.6 L25.6 28.2 L24.8 26.5 L23.2 26.5 L22.4 28.2 L19.7 26.6 L20.7 25.1 L20.0 23.8 L18.1 23.9 L18.1 20.7 L20.0 20.8 L20.7 19.5 L19.7 18.0 L22.4 16.4 L23.2 18.1 L24.8 18.1 L25.6 16.4 L28.3 18.0 L27.3 19.5 L28.0 20.8Z M25.9 22.3 A1.9 1.9 0 1 0 22.1 22.3 A1.9 1.9 0 1 0 25.9 22.3Z"/></svg>
<svg width="22.0" height="28" style="left:40px;top:1051.6px" viewBox="0 0 1408 1792"><path fill="#b8c7ce" d="M384 1344q0 80-56 136t-136 56-136-56-56-136 56-136 136-136 136 56 56 136zm512 123q2 28-17 48-18 21-47 21h-135q-25 0-43-16.5t-20-41.5q-22-229-184.5-391.5t-391.5-184.5q-25-2-41.5-20t-16.5-43v-135q0-29 21-47 17-17 43-17h5q160 13 306 80.5t259 181.5q114 113 181.5 259t80.5 306zm512 2q2 27-18 47-18 20-46 20h-143q-26 0-44.5-17.5t-19.5-42.5q-12-215-101-408.5t-231.5-336-336-231.5-408.5-102q-25-1-42.5-19.5t-17.5-43.5v-143q0-28 20-46 18-18 44-18h3q262 13 501.5 120t425.5 294q187 186 294 425.5t120 501.5z"/></svg>
<svg width="24.0" height="28" style="left:40px;top:1139.6px" viewBox="0 0 1536 1792"><path fill="#b8c7ce" d="M1536 896q0 156-61 298t-164 245-245 164-298 61q-172 0-327-72.5t-264-204.5q-7-10-6.5-22.5t8.5-20.5l137-138q10-9 25-9 16 2 23 12 73 95 179 147t225 52q104 0 198.5-40.5t163.5-109.5 109.5-163.5 40.5-198.5-40.5-198.5-109.5-163.5-163.5-109.5-198.5-40.5q-98 0-188 35.5t-160 101.5l137 138q31 30 14 69-17 40-59 40h-448q-26 0-45-19t-19-45v-448q0-42 40-59 39-17 69 14l130 129q107-101 244.5-156.5t284.5-55.5q156 0 298 61t245 164 164 245 61 298zm-640-288v448q0 14-9 23t-23 9h-320q-14 0-23-9t-9-23v-64q0-14 9-23t23-9h224v-352q0-14 9-23t23-9h64q14 0 23 9t9 23z"/></svg>
<svg width="32.0" height="28" style="left:40px;top:1227.6px" viewBox="0 0 2048 1792"><path fill="#fff" d="M640 896v512h-256v-512h256zm384-512v1024h-256v-1024h256zm1024 1152v128h-2048v-1536h128v1408h1920zm-640-896v768h-256v-768h256zm384-384v1152h-256v-1152h256z"/></svg>
<svg width="25" height="28" style="left:40px;top:1315.6px" viewBox="0 0 25 28"><circle cx="12.1" cy="14.4" r="12.1" fill="#b8c7ce"/><path fill="#222d32" d="M4.1 8.9L5.5 7.2L8 6L11.4 5.5L12.5 6.8L11.5 8L13.5 9.2L14.5 7.5L16 7.8L16.5 9L18.5 9.4L17.5 11L15.5 12.5L14 14.5L13.2 16.5L11 16.8L10.5 18.5L12 19.5L13.5 20.5L13 20.8L10.5 19.5L9 17.5L7 14.5L5 12L5 10.5Z M14.5 21L16 19.5L18.5 20.3L17.5 22.5L15 24L14.2 23Z"/></svg>
<svg width="30.0" height="28" style="left:40px;top:1403.6px" viewBox="0 0 1920 1792"><path fill="#b8c7ce" d="M960 0l960 384v128h-128q0 26-20.5 45t-48.5 19h-1526q-28 0-48.5-19t-20.5-45h-128v-128zm-704 640h256v768h128v-768h256v768h128v-768h256v768h128v-768h256v768h59q28 0 48.5 19t20.5 45v64h-1664v-64q0-26 20.5-45t48.5-19h59v-768zm1595 960q28 0 48.5 19t20.5 45v128h-1920v-128q0-26 20.5-45t48.5-19h1782z"/></svg>
<header class="a" style="left:0;top:0;width:2720px;height:100px;background:#fff"></header>
<div class="a" style="left:104px;top:100px;width:2616px;height:3px;background:linear-gradient(#d9dde2,#ecf0f5)"></div>
<div class="a" style="left:102px;top:0;width:2px;height:100px;background:#eaeaea"></div>
<div class="a" style="left:188px;top:0;width:2px;height:100px;background:#eaeaea"></div>
<div class="a" style="left:134px;top:40px;width:24px;height:4px;border-radius:2px;background:#333"></div>
<div class="a" style="left:134px;top:48px;width:24px;height:4px;border-radius:2px;background:#333"></div>
<div class="a" style="left:134px;top:56px;width:24px;height:4px;border-radius:2px;background:#333"></div>
<div class="a" style="left:2361px;top:0;width:359px;height:98px;background:#f2f2f2;border-top:2px solid #dcdcdc;box-sizing:border-box;box-shadow:0 1px 3px rgba(0,0,0,.12)"></div>
<div class="a" style="left:2517px;top:2px;width:2px;height:96px;background:#ebebeb"></div>
<span class="t" style="left:2430.8px;top:35.5px;font-size:25.5px;color:#333;font-weight:700;font-style:normal;letter-spacing:0.00px;transform:scaleX(1.0248);transform-origin:0 0;">Help</span>
<span class="t" style="left:2589.2px;top:35.5px;font-size:25.5px;color:#333;font-weight:700;font-style:normal;letter-spacing:0.00px;transform:scaleX(0.9782);transform-origin:0 0;">Sign out</span>
<svg width="28" height="28" style="left:2392.4px;top:35.4px" viewBox="0 0 1792 1792"><path fill="#333" d="M896 0q182 0 348 71t286 191 191 286 71 348-71 348-191 286-286 191-348 71-348-71-286-191-191-286-71-348 71-348 191-286 286-191 348-71zm0 128q-190 0-361 90l194 194q82-28 167-28t167 28l194-194q-171-90-361-90zm-678 1129l194-194q-28-82-28-167t28-167l-194-194q-90 171-90 361t90 361zm678 407q190 0 361-90l-194-194q-82 28-167 28t-167-28l-194 194q171 90 361 90zm0-384q159 0 271.5-112.5t112.5-271.5-112.5-271.5-271.5-112.5-271.5 112.5-112.5 271.5 112.5 271.5 271.5 112.5zm484-217l194 194q90-171 90-361t-90-361l-194 194q28 82 28 167t-28 167z"/></svg>
<svg width="2720" height="100" style="left:0;top:0" viewBox="0 0 2720 100"><path d="M2568.4 38.5H2558.2a5.6 5.6 0 0 0-5.6 5.6V53.9a5.6 5.6 0 0 0 5.6 5.6H2568.4" fill="none" stroke="#333" stroke-width="4.8" stroke-linecap="round"/><path d="M2562.5 45.3H2570.3V41.2L2578.8 49.4L2570.3 57.6V53.5H2562.5Z" fill="#333" stroke="#333" stroke-width="1.4" stroke-linejoin="round"/></svg>
<svg width="104" height="100" style="left:0;top:0" viewBox="0 0 104 100"><g style="filter:blur(0.6px)">
<path fill="#3730a3" d="M16.8 6.3 L20.5 6.3 C26 12 29.4 20 31 28 C33 36 34 46 35 54 C37 50 44 41 50.1 35 C55 29 64 19 74 12 C78 9 81 7.5 84 6.3 L88.5 6.3 C80 12 70.5 20 58 35 C48 50 37.6 70 29 85 L20.5 99.5 L18.3 99.5 C20 92 23.5 75 25.5 60 C27 48 27 36 24.5 25 C22.5 17 19.5 10 16.8 6.3 Z"/>
<circle cx="41.9" cy="30.5" r="6.4" fill="#3730a3"/>
<path fill="#1fa24a" d="M8.6 38.2 C18 38 30 39.5 42 42.5 C54 46 64 51 67.5 58 C69.5 64 65 70 56 72.5 C50 74 44 74 38.4 73.3 C46 72 53 69.5 57 65.5 C60.5 61.5 59 57 54 53 C46 47.5 36 44 25 41.5 C19 40 13 39 8.6 38.2 Z"/>
</g></svg>
<div class="a" style="left:104px;top:1410px;width:2616px;height:72px;background:linear-gradient(rgba(0,0,0,0),rgba(0,0,0,.035) 45%,rgba(0,0,0,.10))"></div>
<svg width="22" height="22" style="left:2698px;top:1460px" viewBox="0 0 22 22"><path d="M22 0.5A21 21 0 0 1 1.5 22H22Z" fill="#aaaaaa"/></svg>
<div class="a" style="left:108px;top:104px;width:248px;height:90px;box-sizing:border-box;border:10px solid #3812dc;filter:drop-shadow(1.5px 4px 1.5px rgba(0,0,0,.62))"></div>
<div class="a" style="left:2112px;top:244px;width:448px;height:910px;box-sizing:border-box;border:10px solid #3812dc;filter:drop-shadow(1.5px 4px 1.5px rgba(0,0,0,.62))"></div>
<svg width="2720" height="1482" style="left:0;top:0" viewBox="0 0 2720 1482"><path fill="#ff5a4b" d="M2288 165 L2308.5 165 L2296.6 212.8 L2317.9 206.3 L2274.8 253.8 L2261.7 191.5 L2277 207 Z"/></svg>
<div class="a" style="left:2146.7px;top:56px;width:330px;height:116.7px;border-radius:34px;background:#3812dc"></div>
<span class="t" style="left:2245.3px;top:84.2px;font-size:49.5px;color:#fff;font-weight:400;font-style:normal;letter-spacing:0.00px;-webkit-text-stroke:0.5px #fff;transform:scaleX(0.9744);transform-origin:0 0;">Filters</span>
<svg width="2720" height="1482" style="left:0;top:0;filter:drop-shadow(1.5px 4px 1.5px rgba(0,0,0,.62))" viewBox="0 0 2720 1482">
<ellipse cx="54.1" cy="1241" rx="47" ry="40.2" fill="none" stroke="#3812dc" stroke-width="10"/>
<path fill="#3812dc" d="M104.8 1229.4 L143.8 1178.2 L141.8 1199.2 L209 1165.7 A10.2 10.2 0 0 1 218 1184 L151.5 1218 L169.8 1229.4 Z"/>
</svg>
</body></html>
